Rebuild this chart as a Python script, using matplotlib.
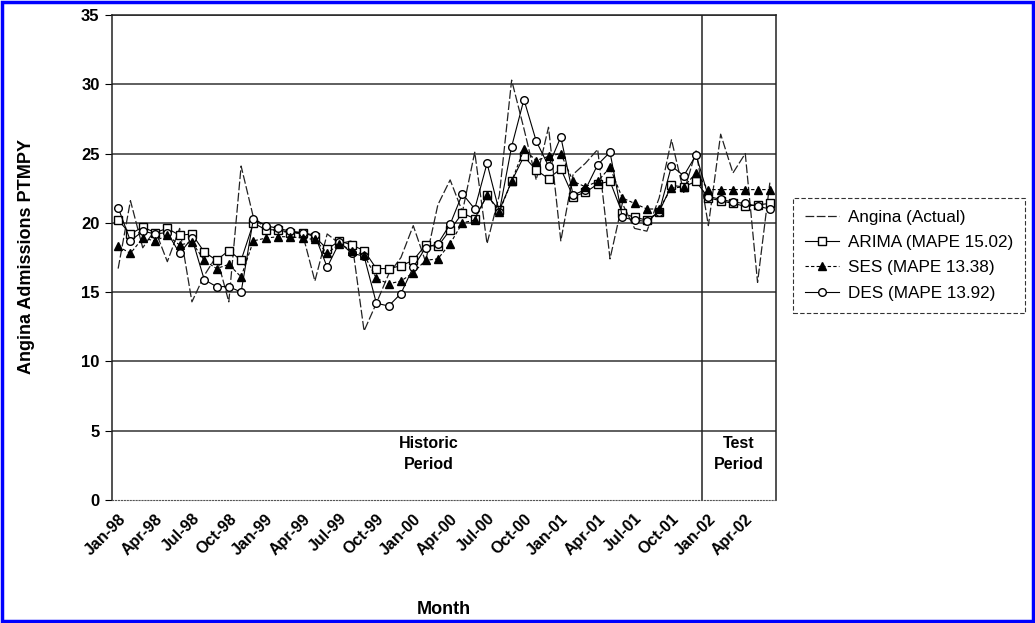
import matplotlib
matplotlib.use("Agg")
import matplotlib.pyplot as plt
from matplotlib.patches import Rectangle
import numpy as np

plt.rcParams['font.family'] = ['Liberation Sans', 'DejaVu Sans']

# monthly series, Jan-98 .. Jun-02
months = ['Jan-98', 'Apr-98', 'Jul-98', 'Oct-98', 'Jan-99', 'Apr-99', 'Jul-99', 'Oct-99',
          'Jan-00', 'Apr-00', 'Jul-00', 'Oct-00', 'Jan-01', 'Apr-01', 'Jul-01', 'Oct-01',
          'Jan-02', 'Apr-02']

actual = [16.7, 21.6, 18.2, 19.5, 17.2, 19.6, 14.3, 16.2, 17.6, 14.3,
          24.1, 20.4, 19.6, 19.4, 19.3, 19.2, 15.8, 19.2, 18.5, 18.7,
          12.2, 14.2, 16.3, 17.5, 19.8, 17.2, 21.3, 23.1, 20.8, 25.1,
          18.5, 22.0, 30.3, 26.8, 23.1, 26.9, 18.7, 23.5, 24.3, 25.3,
          17.4, 21.4, 19.6, 19.4, 21.8, 26.0, 22.2, 25.2, 19.8, 26.4,
          23.6, 25.0, 15.7, 22.9]

arima = [20.2, 19.2, 19.7, 19.3, 19.6, 19.1, 19.2, 17.9, 17.3, 18.0,
         17.3, 20.0, 19.5, 19.5, 19.3, 19.3, 19.0, 18.1, 18.7, 18.4,
         18.0, 16.7, 16.7, 16.9, 17.3, 18.4, 18.3, 19.5, 20.7, 20.3,
         22.0, 20.9, 23.0, 24.8, 23.8, 23.2, 23.9, 21.9, 22.2, 22.8,
         23.0, 20.7, 20.4, 20.2, 20.8, 22.7, 22.6, 23.0, 21.8, 21.6,
         21.4, 21.2, 21.3, 21.4]

ses = [18.3, 17.8, 18.9, 18.7, 19.1, 18.4, 18.6, 17.3, 16.7, 17.0,
       16.1, 18.7, 18.9, 19.0, 19.0, 18.9, 18.8, 17.8, 18.5, 18.0,
       17.7, 16.0, 15.6, 15.8, 16.4, 17.3, 17.4, 18.5, 20.0, 20.2,
       22.0, 20.8, 23.0, 25.3, 24.5, 24.8, 25.0, 23.0, 22.6, 23.0,
       24.0, 21.8, 21.4, 21.0, 21.0, 22.5, 22.6, 23.6, 22.4, 22.4,
       22.4, 22.4, 22.4, 22.4]

des = [21.1, 18.7, 19.4, 19.2, 19.3, 17.8, 18.9, 15.9, 15.4, 15.4,
       15.0, 20.3, 19.8, 19.6, 19.4, 19.3, 19.1, 16.8, 18.6, 17.8,
       17.6, 14.2, 14.0, 14.9, 16.8, 18.2, 18.5, 19.9, 22.1, 21.0,
       24.3, 20.8, 25.5, 28.9, 25.9, 24.1, 26.2, 22.0, 22.4, 24.2,
       25.1, 20.4, 20.2, 20.1, 20.8, 24.1, 23.4, 24.9, 21.9, 21.7,
       21.5, 21.4, 21.2, 21.0]

n = len(actual)
x = np.arange(n) + 0.5
split = 48  # Jan-02, start of the test period

fig = plt.figure(figsize=(10.35, 6.23), dpi=100)
ax = fig.add_axes([112 / 1035, 1 - 500 / 623, 664 / 1035, 485 / 623])

ax.set_xlim(0, n)
ax.set_ylim(0, 35)
ax.set_yticks(range(0, 36, 5))
for v in range(5, 36, 5):
    ax.axhline(v, color='#333333', lw=1.1, zorder=1)
ax.axvline(split, color='#222222', lw=1.1, zorder=1)

ax.plot(x, actual, color='#222222', lw=0.9, ls=(0, (7, 2)), label='Angina (Actual)', zorder=3)
ax.plot(x, arima, color='black', lw=0.8, marker='s', ms=5.5, mfc='white', mec='black', mew=1.0,
        label='ARIMA (MAPE 15.02)', zorder=4)
ax.plot(x, ses, color='black', lw=0.8, ls=(0, (3, 2)), marker='^', ms=6, mfc='black', mec='black',
        label='SES (MAPE 13.38)', zorder=5)
ax.plot(x, des, color='black', lw=0.8, marker='o', ms=5.5, mfc='white', mec='black', mew=1.0,
        label='DES (MAPE 13.92)', zorder=4)

ax.set_xticks(x[::3])
ax.set_xticklabels(months, rotation=45, ha='right', rotation_mode='anchor',
                   fontsize=11.5, fontweight='bold')
ax.tick_params(axis='x', length=0, pad=8)
ax.tick_params(axis='y', length=5, direction='out', pad=4, labelsize=12)
for lbl in ax.get_yticklabels():
    lbl.set_fontweight('bold')

for side in ['top', 'right', 'left']:
    ax.spines[side].set_color('#222222')
    ax.spines[side].set_linewidth(1.1)
ax.spines['bottom'].set_color('#555555')
ax.spines['bottom'].set_linestyle(':')

ax.text(25.8, 3.3, 'Historic\nPeriod', ha='center', va='center', fontsize=11.5,
        fontweight='bold', linespacing=1.5)
ax.text(51, 3.3, 'Test\nPeriod', ha='center', va='center', fontsize=11.5,
        fontweight='bold', linespacing=1.5)

fig.text(27 / 1035, 1 - 257 / 623, 'Angina Admissions PTMPY', rotation=90, ha='center',
         va='center', fontsize=13, fontweight='bold')
fig.text(444 / 1035, 1 - 610 / 623, 'Month', ha='center', va='center', fontsize=13,
         fontweight='bold')

leg = fig.legend(loc='upper left', bbox_to_anchor=(793 / 1035, 1 - 198 / 623), borderaxespad=0,
                 frameon=True, fancybox=False, edgecolor='black', fontsize=12.3,
                 handlelength=2.0, handletextpad=0.5, borderpad=0.7, labelspacing=0.6)
leg.get_frame().set_linewidth(0.8)
leg.get_frame().set_linestyle((0, (4, 2)))

# blue frame round the whole figure
fig.patches.append(Rectangle((0.002, 0.003), 0.996, 0.994, transform=fig.transFigure,
                             fill=False, edgecolor='#0000ff', lw=2.5))

fig.savefig('out.png', dpi=100)
